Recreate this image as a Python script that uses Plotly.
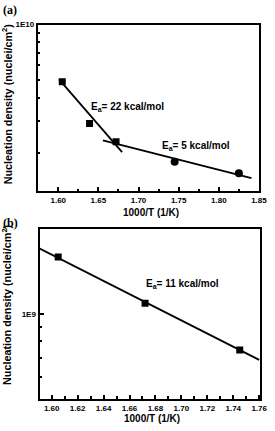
import plotly.graph_objects as go
import numpy as np

# ---- data ----
# panel (a)
a_sq_x = [1.605, 1.639, 1.672]
a_sq_y = [4.89e9, 2.89e9, 2.30e9]
a_ci_x = [1.745, 1.825]
a_ci_y = [1.79e9, 1.55e9]
a_fit1_x = [1.601, 1.6795]
a_fit1_y = [5.03e9, 2.02e9]
a_fit2_x = [1.6556, 1.8407]
a_fit2_y = [2.34e9, 1.46e9]
# panel (b)
b_sq_x = [1.605, 1.672, 1.745]
b_sq_y = [1.595e9, 1.093e9, 7.46e8]
b_fit_x = [1.59, 1.76]
b_fit_y = [1.715e9, 6.88e8]

a_xticks = [1.60, 1.65, 1.70, 1.75, 1.80, 1.85]
a_xminor = [1.625, 1.675, 1.725, 1.775, 1.825]
b_xticks = [1.60, 1.62, 1.64, 1.66, 1.68, 1.70, 1.72, 1.74, 1.76]
b_xminor = [1.61, 1.63, 1.65, 1.67, 1.69, 1.71, 1.73, 1.75]
a_yticks = [1e10]
a_yticktext = ["1E10"]
a_yminor = [2e9, 3e9, 4e9, 5e9, 6e9, 7e9, 8e9, 9e9]
b_yticks = [1e9]
b_yticktext = ["1E9"]
b_yminor = [6e8, 7e8, 8e8, 9e8]

W, H = 275, 431
FONT = "Liberation Sans"

fig = go.Figure()
line_style = dict(color="black", width=1.8)
fig.add_trace(go.Scatter(x=a_fit1_x, y=a_fit1_y, mode="lines", line=line_style,
                         xaxis="x", yaxis="y", showlegend=False))
fig.add_trace(go.Scatter(x=a_fit2_x, y=a_fit2_y, mode="lines", line=line_style,
                         xaxis="x", yaxis="y", showlegend=False))
fig.add_trace(go.Scatter(x=a_sq_x, y=a_sq_y, mode="markers",
                         marker=dict(symbol="square", size=7, color="black"),
                         xaxis="x", yaxis="y", showlegend=False))
fig.add_trace(go.Scatter(x=a_ci_x, y=a_ci_y, mode="markers",
                         marker=dict(symbol="circle", size=8, color="black"),
                         xaxis="x", yaxis="y", showlegend=False))
fig.add_trace(go.Scatter(x=b_fit_x, y=b_fit_y, mode="lines", line=line_style,
                         xaxis="x2", yaxis="y2", showlegend=False))
fig.add_trace(go.Scatter(x=b_sq_x, y=b_sq_y, mode="markers",
                         marker=dict(symbol="square", size=7, color="black"),
                         xaxis="x2", yaxis="y2", showlegend=False))

tickfont = dict(family=FONT, size=8, color="black", weight="bold")
ax_common = dict(showline=True, linewidth=2, linecolor="black", mirror=True,
                 ticks="inside", tickcolor="black", tickwidth=1.5, ticklen=4,
                 showgrid=False, zeroline=False, tickfont=tickfont,
                 ticklabeloverflow="allow")

fig.update_layout(
    width=W, height=H,
    margin=dict(l=0, r=0, t=0, b=0),
    paper_bgcolor="white", plot_bgcolor="white",
    xaxis=dict(domain=[39/W, 266.7/W], range=[1.5746, 1.85], anchor="y",
               tickmode="array", tickvals=a_xticks,
               ticktext=[f"{v:.2f}" for v in a_xticks],
               minor=dict(tickmode="array", tickvals=a_xminor, ticks="inside",
                          ticklen=2.5, tickcolor="black", tickwidth=1.5),
               **ax_common),
    yaxis=dict(domain=[1-189/H, 1-20.7/H], type="log", range=[9.093, 10.0], anchor="x",
               tickmode="array", tickvals=a_yticks, ticktext=a_yticktext,
               minor=dict(tickmode="array", tickvals=a_yminor, ticks="inside",
                          ticklen=2.5, tickcolor="black", tickwidth=1.5),
               **ax_common),
    xaxis2=dict(domain=[40.7/W, 268.3/W], range=[1.5906, 1.761], anchor="y2",
                tickmode="array", tickvals=b_xticks,
                ticktext=[f"{v:.2f}" for v in b_xticks],
                minor=dict(tickmode="array", tickvals=b_xminor, ticks="inside",
                           ticklen=2.5, tickcolor="black", tickwidth=1.5),
                **ax_common),
    yaxis2=dict(domain=[1-398.7/H, 1-227.3/H], type="log",
                range=[np.log10(5e8), np.log10(2e9)], anchor="x2",
                tickmode="array", tickvals=b_yticks, ticktext=b_yticktext,
                minor=dict(tickmode="array", tickvals=b_yminor, ticks="inside",
                           ticklen=2.5, tickcolor="black", tickwidth=1.5),
                **ax_common),
)

def px(xp, yp):
    return dict(x=xp / W, y=1 - yp / H, xref="paper", yref="paper")

bold = dict(family=FONT, size=10, color="black", weight="bold")
ytitle = dict(family=FONT, size=10.8, color="black", weight="bold")
ann = []
# panel labels
ann.append(dict(text="(a)", showarrow=False, xanchor="left", yanchor="middle",
                font=dict(family="Liberation Serif", size=12, color="black", weight="bold"),
                **px(1, 6)))
ann.append(dict(text="(b)", showarrow=False, xanchor="left", yanchor="middle",
                font=dict(family="Liberation Serif", size=12, color="black", weight="bold"),
                **px(1, 221)))
# axis titles
ann.append(dict(text="1000/T (1/K)", showarrow=False, xanchor="center", yanchor="middle",
                font=bold, **px(156, 210.5)))
ann.append(dict(text="1000/T (1/K)", showarrow=False, xanchor="center", yanchor="middle",
                font=bold, **px(157, 418)))
ann.append(dict(text="Nucleation density (nuclei/cm<sup>2</sup>)", showarrow=False,
                textangle=-90, xanchor="center", yanchor="middle",
                font=ytitle, **px(7, 100.5)))
ann.append(dict(text="Nucleation density (nuclei/cm<sup>2</sup>)", showarrow=False,
                textangle=-90, xanchor="center", yanchor="middle",
                font=ytitle, **px(7, 303)))
# activation energies
ann.append(dict(text="E<sub>a</sub>= 22 kcal/mol", showarrow=False, xanchor="left",
                yanchor="middle", font=bold, **px(92, 104)))
ann.append(dict(text="E<sub>a</sub>= 5 kcal/mol", showarrow=False, xanchor="left",
                yanchor="middle", font=bold, **px(165, 143)))
ann.append(dict(text="E<sub>a</sub>= 11 kcal/mol", showarrow=False, xanchor="left",
                yanchor="middle", font=bold, **px(148.5, 283)))
fig.update_layout(annotations=ann)

fig.write_html("out.html")
